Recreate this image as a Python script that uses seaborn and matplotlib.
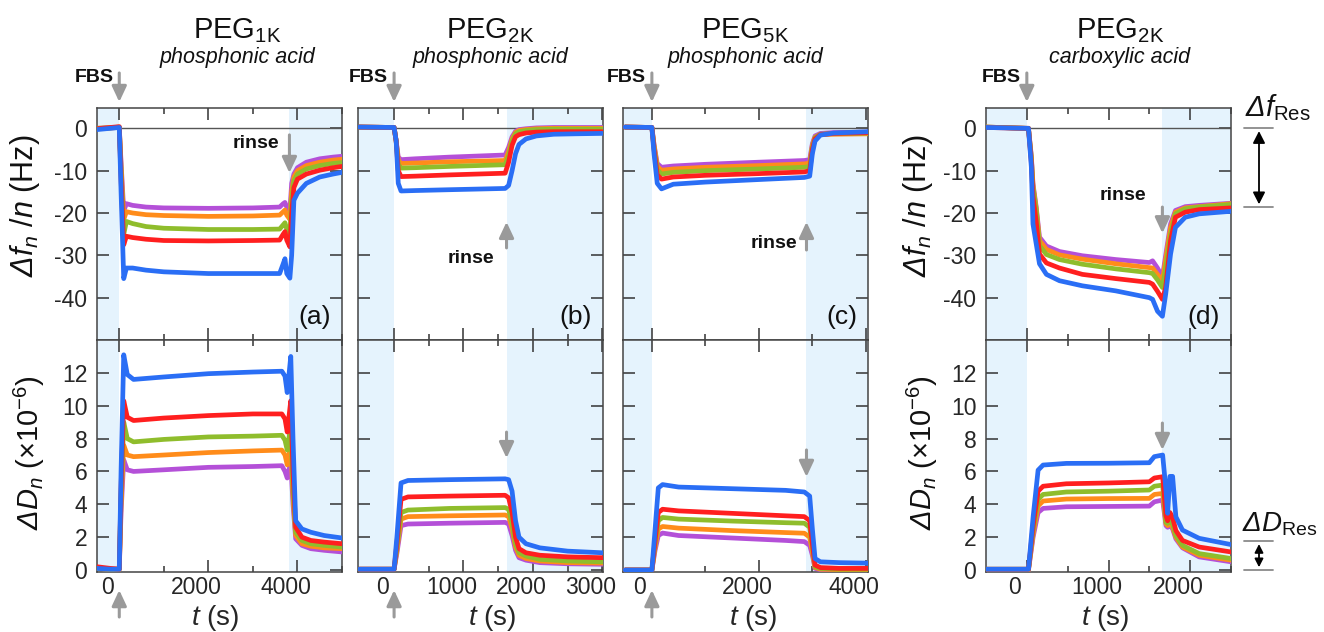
import matplotlib
matplotlib.use("Agg")
import matplotlib.pyplot as plt
import matplotlib.transforms as mtransforms
from matplotlib.lines import Line2D
import numpy as np
import pandas as pd
import seaborn as sns

# series order: purple, orange, green, red, blue (blue ends up on top)
series_names = ["purple", "orange", "green", "red", "blue"]
series_colors = ["#b450d8", "#ff8c1a", "#8fbd2c", "#ff1f1f", "#2a6ef5"]

# ---- (a) PEG1K phosphonic acid ----
a_t_f = [-500, -200, 0, 40, 100, 160, 300, 600, 1000, 2000, 3000, 3600, 3680, 3720,
         3760, 3830, 3870, 3920, 4000, 4200, 4500, 4800, 5000]
a_f = [
    [0, 0.1, 0.2, -8, -19.5, -17.8, -18.2, -18.6, -18.8, -18.9, -18.8, -18.6, -17.8, -17.5,
     -18.6, -19.5, -13, -10.8, -9.3, -8.0, -7.2, -6.8, -6.6],
    [0, 0.1, 0.2, -9, -21.5, -19.7, -20, -20.4, -20.6, -20.8, -20.7, -20.5, -19.7, -19.3,
     -20.5, -21.5, -15, -11.5, -10, -8.8, -8.0, -7.5, -7.3],
    [0, 0.1, 0.3, -10, -25, -22, -22.5, -23.2, -23.6, -23.9, -23.9, -23.8, -22.8, -22.3,
     -23.8, -25, -17, -12.5, -10.8, -9.6, -8.8, -8.3, -8.1],
    [-0.1, 0.2, 0.4, -12, -27.5, -25.5, -25.8, -26.2, -26.5, -26.6, -26.5, -26.4, -25.0, -24.4,
     -26.4, -28.0, -20, -14, -12.0, -10.8, -9.9, -9.3, -9.0],
    [-0.3, 0.0, 0.2, -15, -35.5, -33.0, -33.0, -33.5, -33.9, -34.3, -34.3, -34.3, -32, -30.8,
     -34.3, -35.4, -30, -17, -15.3, -13.0, -11.5, -10.8, -10.4],
]
a_t_D = [-500, -200, 0, 40, 100, 180, 320, 1000, 2000, 3000, 3650, 3720, 3770, 3850,
         3900, 3960, 4100, 4300, 4600, 5000]
a_D = [
    [0.1, 0.05, 0.05, 3.5, 6.7, 6.1, 6.0, 6.1, 6.25, 6.3, 6.35, 6.0, 5.6, 6.6, 4.0, 1.9, 1.5, 1.3, 1.2, 1.1],
    [0.1, 0.05, 0.05, 4.0, 7.6, 7.0, 6.9, 7.0, 7.15, 7.25, 7.3, 7.0, 6.4, 7.6, 4.5, 2.1, 1.6, 1.45, 1.35, 1.3],
    [0.1, 0.05, 0.05, 4.5, 9.0, 8.0, 7.8, 7.95, 8.1, 8.15, 8.2, 7.9, 7.3, 8.8, 5.0, 2.3, 1.8, 1.6, 1.5, 1.4],
    [0.2, 0.1, 0.05, 5.0, 10.3, 9.3, 9.1, 9.25, 9.4, 9.5, 9.5, 9.2, 8.4, 10.3, 6.0, 2.6, 2.0, 1.8, 1.7, 1.6],
    [0.1, 0.05, 0.05, 6.0, 13.1, 11.9, 11.6, 11.75, 11.95, 12.05, 12.1, 11.8, 10.8, 13.0, 8.0, 3.0, 2.5, 2.3, 2.1, 1.95],
]

# ---- (b) PEG2K phosphonic acid ----
b_t_f = [-500, 0, 30, 60, 100, 300, 800, 1600, 1650, 1700, 1750, 1800, 1900, 2050, 2300, 2600, 3000]
b_f = [
    [0.3, 0.2, -3, -6.8, -7.4, -7.2, -6.8, -6.3, -4.5, -2.0, -0.7, -0.3, -0.1, 0.1, 0.2, 0.2, 0.2],
    [0.3, 0.2, -3, -7.5, -8.3, -8.2, -7.9, -7.6, -5.5, -2.5, -1.0, -0.5, -0.3, -0.1, 0.0, 0.0, 0.0],
    [0.3, 0.2, -3, -8.5, -9.4, -9.3, -9.0, -8.6, -6.5, -3.0, -1.3, -0.8, -0.5, -0.3, -0.2, -0.2, -0.2],
    [0.3, 0.2, -3, -10, -11.4, -11.3, -11.0, -10.6, -8.0, -4.0, -2.0, -1.5, -1.1, -0.9, -0.8, -0.8, -0.8],
    [0.3, 0.2, -3, -13, -14.8, -14.7, -14.5, -14.2, -13.5, -10, -6, -3.8, -2.5, -1.8, -1.4, -1.3, -1.2],
]
b_t_D = [-500, 0, 40, 100, 200, 800, 1600, 1650, 1700, 1750, 1800, 1900, 2100, 2500, 3000]
b_D = [
    [0.05, 0.05, 1.0, 2.7, 2.8, 2.85, 2.9, 2.8, 2.1, 1.2, 0.75, 0.6, 0.45, 0.38, 0.35],
    [0.05, 0.05, 1.2, 3.1, 3.25, 3.3, 3.35, 3.25, 2.5, 1.4, 0.9, 0.7, 0.55, 0.45, 0.42],
    [0.05, 0.05, 1.3, 3.5, 3.65, 3.75, 3.8, 3.7, 2.8, 1.6, 1.05, 0.85, 0.65, 0.55, 0.5],
    [0.05, 0.05, 1.6, 4.3, 4.45, 4.5, 4.55, 4.4, 3.5, 2.0, 1.3, 1.05, 0.9, 0.8, 0.75],
    [0.05, 0.05, 2.0, 5.3, 5.45, 5.5, 5.55, 5.5, 4.8, 3.0, 2.0, 1.6, 1.35, 1.15, 1.05],
]

# ---- (c) PEG5K phosphonic acid ----
c_t_f = [-500, 0, 40, 100, 180, 400, 1000, 2000, 2850, 2950, 3000, 3050, 3150, 3400, 4050]
c_f = [
    [0.3, 0.2, -3.8, -8.3, -9.2, -8.9, -8.5, -8.0, -7.6, -7.4, -3.6, -1.8, -1.2, -1.0, -0.9],
    [0.3, 0.2, -4.0, -9.0, -9.9, -9.6, -9.2, -8.8, -8.4, -8.2, -4.0, -2.1, -1.5, -1.4, -1.3],
    [0.3, 0.2, -4.5, -9.8, -10.8, -10.4, -10.0, -9.6, -9.2, -9.0, -4.5, -2.2, -1.4, -1.2, -1.1],
    [0.3, 0.2, -5.0, -11.0, -12.0, -11.5, -11.1, -10.7, -10.3, -10.0, -5.0, -2.5, -1.5, -1.2, -1.0],
    [0.3, 0.2, -6.0, -13.0, -14.3, -13.2, -12.7, -12.1, -11.6, -11.3, -6.0, -3.0, -1.6, -1.1, -0.8],
]
c_t_D = [-500, 0, 60, 120, 200, 500, 1500, 2500, 2850, 2950, 3000, 3050, 3150, 3500, 4050]
c_D = [
    [0, 0, 1.2, 2.1, 2.25, 2.1, 1.95, 1.8, 1.73, 1.5, 0.9, 0.1, 0.02, 0.0, 0.0],
    [0, 0, 1.4, 2.5, 2.65, 2.55, 2.4, 2.28, 2.24, 2.0, 1.1, 0.15, 0.05, 0.02, 0.02],
    [0, 0, 1.6, 3.0, 3.2, 3.1, 2.98, 2.88, 2.85, 2.6, 1.4, 0.2, 0.1, 0.05, 0.05],
    [0, 0, 1.8, 3.5, 3.7, 3.6, 3.45, 3.3, 3.25, 3.0, 1.6, 0.3, 0.15, 0.1, 0.1],
    [0, 0, 2.5, 5.0, 5.2, 5.05, 4.95, 4.85, 4.75, 4.5, 2.5, 0.7, 0.5, 0.45, 0.42],
]

# ---- (d) PEG2K carboxylic acid ----
d_t_f = [-500, 0, 20, 55, 75, 115, 155, 240, 400, 680, 1090, 1500, 1540, 1600, 1660,
         1700, 1760, 1820, 1940, 2110, 2500]
d_f = [
    [0.3, 0.0, 0.0, -6.5, -13.0, -18.6, -25.7, -27.8, -29.1, -30.1, -31.0, -31.7, -31.3, -33.0, -35.2,
     -30.0, -22.6, -19.4, -18.5, -18.2, -17.7],
    [0.3, 0.0, 0.0, -7.0, -13.5, -19.0, -26.5, -28.6, -29.9, -30.9, -32.0, -32.9, -33.0, -34.5, -36.0,
     -31.0, -23.4, -19.8, -18.8, -18.5, -17.8],
    [0.3, 0.0, 0.0, -7.0, -14.0, -19.4, -27.7, -29.8, -31.0, -32.1, -33.2, -34.1, -34.3, -35.8, -37.6,
     -33.0, -25.0, -20.2, -19.0, -18.6, -18.0],
    [0.2, 0.0, 0.0, -8.0, -16.0, -22.0, -29.7, -31.8, -33.0, -34.5, -35.5, -36.4, -36.8, -38.5, -40.4,
     -37.6, -26.5, -21.0, -19.8, -19.2, -18.8],
    [0.2, 0.0, 0.0, -9.1, -22.6, -27.3, -32.0, -34.5, -36.0, -37.2, -38.4, -40.0, -40.4, -43.2, -44.4,
     -39.2, -29.7, -23.4, -21.0, -20.2, -19.6],
]
d_t_D = [-500, 0, 20, 77, 138, 199, 484, 1000, 1500, 1561, 1663, 1704, 1724, 1752, 1785,
         1825, 1906, 2110, 2500]
d_D = [
    [0, 0, 0, 2.0, 3.5, 3.75, 3.85, 3.87, 3.89, 4.15, 4.26, 2.7, 2.6, 2.75, 2.5, 1.9, 1.35, 0.8, 0.5],
    [0, 0, 0, 2.2, 3.9, 4.2, 4.32, 4.35, 4.36, 4.6, 4.66, 2.8, 2.7, 2.9, 2.6, 2.0, 1.4, 0.9, 0.6],
    [0.05, 0.05, 0.05, 2.4, 4.3, 4.6, 4.75, 4.8, 4.87, 5.1, 5.17, 2.9, 2.84, 3.0, 2.8, 2.1, 1.5, 1.0, 0.7],
    [0.05, 0.05, 0.05, 2.7, 4.8, 5.1, 5.25, 5.3, 5.37, 5.6, 5.68, 3.3, 3.0, 3.5, 3.2, 2.4, 1.8, 1.4, 1.1],
    [0.05, 0.05, 0.05, 3.24, 6.08, 6.39, 6.49, 6.5, 6.53, 6.9, 7.0, 4.87, 3.45, 5.7, 5.7, 3.24, 2.43, 1.93, 1.55],
]

titles = [r"PEG$_{\mathregular{1K}}$", r"PEG$_{\mathregular{2K}}$",
          r"PEG$_{\mathregular{5K}}$", r"PEG$_{\mathregular{2K}}$"]
subtitles = ["phosphonic acid", "phosphonic acid", "phosphonic acid", "carboxylic acid"]
panel_tags = ["(a)", "(b)", "(c)", "(d)"]
fbs_time = 0
rinse_times = [3820, 1620, 2890, 1660]
xlims = [(-500, 5000), (-520, 3010), (-540, 4040), (-500, 2500)]
major_steps = [2000, 1000, 2000, 1000]
minor_steps = [1000, 500, 1000, 500]
f_res = -18.6
d_res = 1.75

sns.set_style("ticks")
plt.rcParams["font.family"] = ["Liberation Sans", "DejaVu Sans"]
plt.rcParams["mathtext.fontset"] = "custom"
plt.rcParams["mathtext.rm"] = "Liberation Sans:italic"
plt.rcParams["mathtext.it"] = "Liberation Sans:italic"
plt.rcParams["mathtext.bf"] = "Liberation Sans:bold"
plt.rcParams["axes.unicode_minus"] = False
plt.rcParams["text.color"] = "#111111"

W, H = 1324, 632
fig = plt.figure(figsize=(W / 100, H / 100), dpi=100)

shade = "#e5f3fd"
arrow_gray = "#9a9a9a"
ax_left = [97, 358, 623, 986]
ax_w = 245
top_y0, mid_y, bot_y1 = 108, 340, 572


def px_axes(left, top, w, h):
    return fig.add_axes([left / W, 1 - (top + h) / H, w / W, h / H])


def long_frame(t, rows):
    recs = [(ti, v, name) for name, vals in zip(series_names, rows) for ti, v in zip(t, vals)]
    return pd.DataFrame(recs, columns=["t", "value", "series"])


def arrow(ax, x, y_tail, y_tip, color=arrow_gray, lw=2.2):
    ax.annotate("", xy=(x, y_tip), xytext=(x, y_tail),
                xycoords=(ax.transData, ax.transAxes),
                textcoords=(ax.transData, ax.transAxes),
                arrowprops=dict(arrowstyle="-|>,head_length=0.47,head_width=0.22",
                                color=color, lw=lw, mutation_scale=20,
                                shrinkA=0, shrinkB=0),
                annotation_clip=False)


def bold_note(ax, text, x, y, dx, ha):
    ax.annotate(text, xy=(x, y), xycoords=(ax.transData, ax.transAxes),
                xytext=(dx, 0), textcoords="offset pixels", ha=ha, va="center",
                fontsize=14, fontweight="bold", annotation_clip=False)


def style_axes(ax, i, ylim, yticks, show_x, show_y):
    ax.set_xlim(*xlims[i])
    ax.set_ylim(*ylim)
    ax.axvspan(xlims[i][0], fbs_time, color=shade, lw=0, zorder=0)
    ax.axvspan(rinse_times[i], xlims[i][1], color=shade, lw=0, zorder=0)
    ax.set_xticks(np.arange(0, xlims[i][1] + 1, major_steps[i]))
    ax.set_xticks(np.arange(0, xlims[i][1] + 1, minor_steps[i]), minor=True)
    ax.set_yticks(yticks)
    ax.tick_params(which="both", direction="in", top=True, right=True,
                   color="#333333", width=1.1, labelsize=16.5)
    ax.tick_params(which="major", length=8.5)
    ax.tick_params(which="minor", length=4.5)
    ax.tick_params(axis="y", pad=7)
    ax.tick_params(axis="x", pad=3)
    ax.set_xlabel("")
    ax.set_ylabel("")
    if not show_x:
        ax.set_xticklabels([])
    else:
        shift = mtransforms.ScaledTranslation(-0.12, 0, fig.dpi_scale_trans)
        for lbl in ax.get_xticklabels():
            lbl.set_transform(lbl.get_transform() + shift)
    if not show_y:
        ax.set_yticklabels([])
    for sp in ax.spines.values():
        sp.set_color("#444444")
        sp.set_linewidth(1.1)
        sp.set_visible(True)


freq_t = [a_t_f, b_t_f, c_t_f, d_t_f]
freq_v = [a_f, b_f, c_f, d_f]
diss_t = [a_t_D, b_t_D, c_t_D, d_t_D]
diss_v = [a_D, b_D, c_D, d_D]

title_x = [237, 490, 745, 1120]
xlabel_x = [0.48, 0.547, 0.53, 0.486]
top_axes = []
bot_axes = []

for i in range(4):
    ax_top = px_axes(ax_left[i], top_y0, ax_w, mid_y - top_y0)
    ax_bot = px_axes(ax_left[i], mid_y, ax_w, bot_y1 - mid_y)
    top_axes.append(ax_top)
    bot_axes.append(ax_bot)

    ax_top.axhline(0, color="#555555", lw=1.0, zorder=1)
    sns.lineplot(data=long_frame(freq_t[i], freq_v[i]), x="t", y="value", hue="series",
                 hue_order=series_names, palette=series_colors, estimator=None,
                 sort=False, linewidth=3.4, legend=False, ax=ax_top, zorder=3,
                 solid_joinstyle="round")
    sns.lineplot(data=long_frame(diss_t[i], diss_v[i]), x="t", y="value", hue="series",
                 hue_order=series_names, palette=series_colors, estimator=None,
                 sort=False, linewidth=3.4, legend=False, ax=ax_bot, zorder=3,
                 solid_joinstyle="round")

    first_or_last = i in (0, 3)
    style_axes(ax_top, i, (-50, 4.8), [-40, -30, -20, -10, 0], False, first_or_last)
    style_axes(ax_bot, i, (-0.12, 14), list(range(0, 13, 2)), True, first_or_last)

    ax_top.text(0.955, 0.1, panel_tags[i], transform=ax_top.transAxes,
                ha="right", va="center", fontsize=19)

    ax_bot.set_xlabel("$t$ (s)", fontsize=20)
    ax_bot.xaxis.set_label_coords(xlabel_x[i], -0.198)
    ax_bot.xaxis.label.set_va("center")

    fig.text(title_x[i] / W, 1 - 31 / H, titles[i], ha="center", va="center", fontsize=21)
    fig.text(title_x[i] / W, 1 - 57 / H, subtitles[i], ha="center", va="center",
             fontsize=15.5, style="italic")

    # FBS injection markers
    arrow(ax_top, fbs_time, 1.151, 1.026)
    bold_note(ax_top, "FBS", fbs_time, 1.13, -6, "right")
    if i < 3:
        arrow(ax_bot, fbs_time, -0.194, -0.078)

# rinse markers
arrow(top_axes[0], rinse_times[0], 0.884, 0.72)
bold_note(top_axes[0], "rinse", rinse_times[0], 0.845, -10, "right")
arrow(top_axes[1], rinse_times[1], 0.397, 0.509)
bold_note(top_axes[1], "rinse", rinse_times[1], 0.353, -36, "center")
arrow(bot_axes[1], rinse_times[1], 0.603, 0.491)
arrow(top_axes[2], rinse_times[2], 0.388, 0.509)
bold_note(top_axes[2], "rinse", rinse_times[2], 0.418, -9, "right")
arrow(bot_axes[2], rinse_times[2], 0.526, 0.41)
arrow(top_axes[3], rinse_times[3], 0.573, 0.46)
bold_note(top_axes[3], "rinse", rinse_times[3], 0.625, -39, "center")
arrow(bot_axes[3], rinse_times[3], 0.642, 0.526)

# y labels
for xc in (25, 918):
    fig.text(xc / W, 1 - 206 / H, r"$\Delta f_n$ /$n$ (Hz)", rotation=90,
             ha="center", va="center", fontsize=22)
    fig.text((xc + 4) / W, 1 - 453 / H, r"$\Delta D_n$ (×10$^{\mathregular{-6}}$)",
             rotation=90, ha="center", va="center", fontsize=21)

# residual shift markers next to panel (d)
ax_f, ax_D = top_axes[3], bot_axes[3]
for ax, lo, hi, ms in ((ax_f, f_res, 0.0, 13), (ax_D, 0.0, d_res, 9)):
    tr = mtransforms.blended_transform_factory(fig.transFigure, ax.transData)
    for yv in (lo, hi):
        fig.add_artist(Line2D([1244 / W, 1273 / W], [yv, yv], transform=tr,
                              color="#8a8a8a", lw=1.3))
    ax.annotate("", xy=(1259 / W, lo), xytext=(1259 / W, hi),
                xycoords=(fig.transFigure, ax.transData),
                textcoords=(fig.transFigure, ax.transData),
                arrowprops=dict(arrowstyle="<|-|>,head_length=0.55,head_width=0.28",
                                color="black", lw=1.3, mutation_scale=ms,
                                shrinkA=2, shrinkB=2),
                annotation_clip=False)
fig.text(1245 / W, 1 - 116 / H, r"$\Delta f_{\mathregular{Res}}$", fontsize=21,
         ha="left", va="baseline")
fig.text(1242 / W, 1 - 531 / H, r"$\Delta D_{\mathregular{Res}}$", fontsize=20,
         ha="left", va="baseline")

fig.savefig("out.png", dpi=100)
